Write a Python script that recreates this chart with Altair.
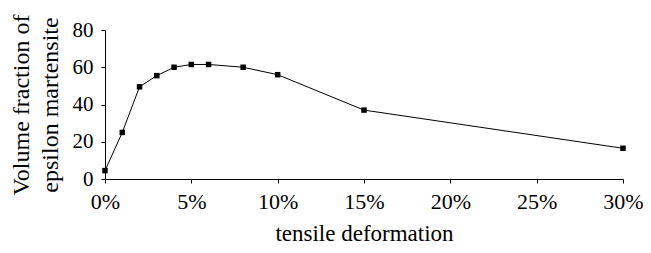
import altair as alt
import pandas as pd

deformation = [0, 1, 2, 3, 4, 5, 6, 8, 10, 15, 30]
fraction = [4.5, 25, 49.5, 55.5, 60, 61.5, 61.5, 60, 56, 37, 16.5]

df = pd.DataFrame({"deformation": deformation, "fraction": fraction})

FONT = "Liberation Serif"

x = alt.X("deformation:Q",
          scale=alt.Scale(domain=[0, 30], nice=False),
          axis=alt.Axis(values=[0, 5, 10, 15, 20, 25, 30],
                        labelExpr="datum.value + '%'",
                        title="tensile deformation",
                        grid=False, labelFontSize=22, titleFontSize=23,
                        labelFont=FONT, titleFont=FONT,
                        labelFlush=False,
                        labelPadding=8, titlePadding=10,
                        domainColor="black", tickColor="black", tickSize=4,
                        labelColor="black", titleColor="black"))
y = alt.Y("fraction:Q",
          scale=alt.Scale(domain=[0, 80], nice=False),
          axis=alt.Axis(values=[0, 20, 40, 60, 80],
                        title=["Volume fraction of", "epsilon martensite"],
                        labelFont=FONT, titleFont=FONT,
                        grid=False, labelFontSize=21, titleFontSize=24,
                        titleLineHeight=29, labelPadding=8, titlePadding=10,
                        domainColor="black", tickColor="black", tickSize=4,
                        labelColor="black", titleColor="black"))

line = alt.Chart(df).mark_line(color="black", strokeWidth=1).encode(x=x, y=y)
pts = alt.Chart(df).mark_point(shape="square", filled=True, color="black",
                               size=30, opacity=1).encode(x=x, y=y)

chart = (line + pts).properties(
    width=518, height=149,
    autosize=alt.AutoSizeParams(type="none"),
    padding={"left": 97, "top": 22, "right": 20, "bottom": 66},
    background="white",
).configure_axis(titleFontWeight="normal").configure_view(stroke=None)

chart.save("out.html", embed_options={"renderer": "svg", "actions": False})
